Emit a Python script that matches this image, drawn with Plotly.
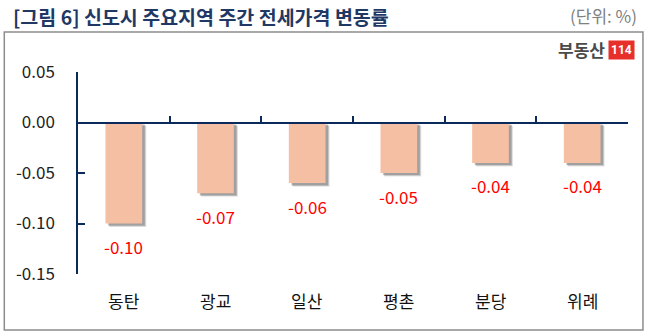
import plotly.graph_objects as go

categories = ["동탄", "광교", "일산", "평촌", "분당", "위례"]
values = [-0.10, -0.07, -0.06, -0.05, -0.04, -0.04]
value_labels = ["-0.10", "-0.07", "-0.06", "-0.05", "-0.04", "-0.04"]
y_ticks = [0.05, 0.00, -0.05, -0.10, -0.15]
y_tick_labels = ["0.05", "0.00", "-0.05", "-0.10", "-0.15"]

KR = "Noto Sans CJK KR"
NAVY = "#0b2a5c"
BAR = "#f5bfa3"
BAR_W = 0.4

fig = go.Figure()
# soft shadow layers
for dx, dy, a in [(0.045, 0.0035, 0.18), (0.036, 0.0028, 0.3), (0.028, 0.0021, 0.4)]:
    fig.add_trace(go.Bar(
        x=categories, y=values, base=[-dy] * len(values), width=BAR_W,
        offset=-BAR_W / 2 + dx, marker=dict(color=f"rgba(110,110,110,{a})", line=dict(width=0)),
        hoverinfo="skip", showlegend=False))
fig.add_trace(go.Bar(
    x=categories, y=values, width=BAR_W, offset=-BAR_W / 2,
    marker=dict(color=BAR, line=dict(width=0)), showlegend=False))

for c, v, t in zip(categories, values, value_labels):
    fig.add_annotation(x=c, y=v, text=t, showarrow=False, yshift=-23, yanchor="middle",
                       font=dict(family=KR, size=17, color="#ff0000"))
for c in categories:
    fig.add_annotation(x=c, y=0, yref="paper", text=c, showarrow=False, yshift=-26, yanchor="middle",
                       font=dict(family=KR, size=17, color="#111111"))

# Title and unit
fig.add_annotation(xref="paper", yref="paper", x=-0.121, y=1.277, xanchor="left", yanchor="middle",
                   text="<b>[그림 6] 신도시 주요지역 주간 전세가격 변동률</b>", showarrow=False,
                   font=dict(family=KR, size=19.5, color="#1f3864"))
fig.add_annotation(xref="paper", yref="paper", x=1.02, y=1.282, xanchor="right", yanchor="middle",
                   text="(단위: %)", showarrow=False, font=dict(family=KR, size=17, color="#808080"))
# logo
fig.add_annotation(xref="paper", yref="paper", x=0.961, y=1.109, xanchor="right", yanchor="middle",
                   text="<b>부동산</b>", showarrow=False, font=dict(family=KR, size=17, color="#4a4a4a"))
fig.add_annotation(xref="paper", yref="paper", x=1.0127, y=1.109, xanchor="right", yanchor="middle",
                   text="<b>114</b>", showarrow=False, bgcolor="#e8302a", borderpad=2,
                   font=dict(family="Liberation Sans Narrow, Roboto", size=12, color="#ffffff"))

# outer box
fig.add_shape(type="rect", xref="paper", yref="paper", x0=-0.134, x1=1.0272, y0=-0.277, y1=1.198,
              line=dict(color="#8c8c8c", width=1.5), fillcolor="rgba(0,0,0,0)", layer="below")

fig.update_layout(
    width=646, height=333,
    margin=dict(l=78, r=18, t=72, b=59),
    paper_bgcolor="white", plot_bgcolor="white",
    barmode="overlay", bargap=0.6,
    xaxis=dict(type="category", range=[-0.5, 5.5], anchor="free", position=0.75,
               showline=True, linecolor=NAVY, linewidth=1.5, ticks="inside", tickson="boundaries",
               ticklen=6, tickcolor=NAVY, tickwidth=1.5, showticklabels=False, showgrid=False,
               zeroline=False),
    yaxis=dict(range=[-0.15, 0.05], tickvals=y_ticks, ticktext=y_tick_labels,
               showline=True, linecolor=NAVY, linewidth=1.5, ticks="inside", ticklen=7,
               tickcolor=NAVY, tickwidth=1.5, showgrid=False, zeroline=False,
               ticklabelstandoff=18, tickfont=dict(family=KR, size=17, color="#222222")),
    font=dict(family=KR),
)

fig.write_html("out.html")
